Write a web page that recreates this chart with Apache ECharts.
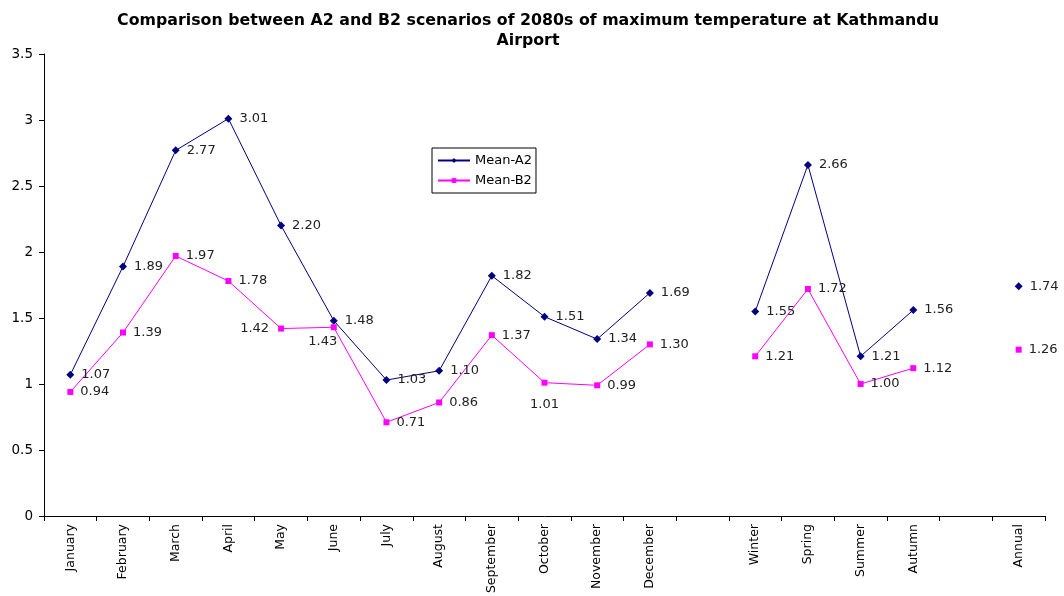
<!DOCTYPE html>
<html>
<head>
<meta charset="utf-8">
<script src="https://cdn.jsdelivr.net/npm/echarts@6/dist/echarts.min.js"></script>
<style>
  html, body { margin: 0; padding: 0; background: #fff; }
  #chart { width: 1064px; height: 596px; }
</style>
</head>
<body>
<div id="chart"></div>
<script>
// Periods: months, seasons and the annual mean, with blank slots between groups
const categories = ['January', 'February', 'March', 'April', 'May', 'June', 'July', 'August',
  'September', 'October', 'November', 'December', '', 'Winter', 'Spring', 'Summer', 'Autumn', '', 'Annual'];

// Change in maximum temperature, 2080s
const meanA2 = [1.07, 1.89, 2.77, 3.01, 2.20, 1.48, 1.03, 1.10, 1.82, 1.51, 1.34, 1.69,
  null, 1.55, 2.66, 1.21, 1.56, null, 1.74];
const meanB2 = [0.94, 1.39, 1.97, 1.78, 1.42, 1.43, 0.71, 0.86, 1.37, 1.01, 0.99, 1.30,
  null, 1.21, 1.72, 1.00, 1.12, null, 1.26];

const yTicks = { min: 0, max: 3.5, interval: 0.5 };

const FONT = '"DejaVu Sans", Verdana, sans-serif';

// Label placement overrides for points where the default would collide
const labelPosB2 = {
  4: { position: 'left', distance: 9 },
  5: { position: 'bottom', distance: 5, offset: [-11, 0] },
  9: { position: 'bottom', distance: 12 }
};

function toData(values, overrides) {
  return values.map((v, i) => {
    if (v === null) return null;
    const item = { value: v };
    if (overrides && overrides[i]) item.label = overrides[i];
    return item;
  });
}

const labelStyle = {
  show: true,
  position: 'right',
  distance: 7,
  color: '#222',
  fontFamily: FONT,
  fontSize: 13,
  formatter: p => p.value.toFixed(2)
};

const chart = echarts.init(document.getElementById('chart'), null, { renderer: 'canvas' });
chart.setOption({
  animation: false,
  backgroundColor: '#fff',
  title: {
    text: 'Comparison between A2 and B2 scenarios of 2080s of maximum temperature at Kathmandu\nAirport',
    left: 523,
    textAlign: 'center',
    top: 6,
    textStyle: { fontFamily: FONT, fontSize: 15.8, fontWeight: 'bold', color: '#000', lineHeight: 20 }
  },
  legend: {
    left: 432,
    top: 148,
    orient: 'vertical',
    itemGap: 7,
    itemWidth: 32,
    itemHeight: 6,
    padding: [6, 4, 6, 5],
    borderColor: '#000',
    borderWidth: 1,
    textStyle: { fontFamily: FONT, fontSize: 13, color: '#000' },
    data: ['Mean-A2', 'Mean-B2']
  },
  grid: { left: 44, right: 19, top: 54, bottom: 80, containLabel: false, outerBoundsMode: 'none' },
  xAxis: {
    type: 'category',
    data: categories,
    boundaryGap: true,
    axisLine: { lineStyle: { color: '#000', width: 1 } },
    axisTick: { show: true, alignWithLabel: false, interval: 0, length: 5, lineStyle: { color: '#000' } },
    axisLabel: {
      interval: 0,
      rotate: 90,
      margin: 8,
      color: '#000',
      fontFamily: FONT,
      fontSize: 12.5
    },
    splitLine: { show: false }
  },
  yAxis: {
    type: 'value',
    min: yTicks.min,
    max: yTicks.max,
    interval: yTicks.interval,
    axisLine: { show: true, lineStyle: { color: '#000', width: 1 } },
    axisTick: { show: true, length: 5, lineStyle: { color: '#000' } },
    axisLabel: { color: '#000', fontFamily: FONT, fontSize: 13.5, margin: 11 },
    splitLine: { show: false }
  },
  series: [
    {
      name: 'Mean-A2',
      type: 'line',
      data: toData(meanA2),
      connectNulls: false,
      symbol: 'diamond',
      symbolSize: 8,
      color: '#000080',
      lineStyle: { color: '#000080', width: 1 },
      itemStyle: { color: '#000080' },
      label: labelStyle
    },
    {
      name: 'Mean-B2',
      type: 'line',
      data: toData(meanB2, labelPosB2),
      connectNulls: false,
      symbol: 'rect',
      symbolSize: 6,
      color: '#FF00FF',
      lineStyle: { color: '#FF00FF', width: 1 },
      itemStyle: { color: '#FF00FF' },
      label: labelStyle
    }
  ]
});
</script>
</body>
</html>
